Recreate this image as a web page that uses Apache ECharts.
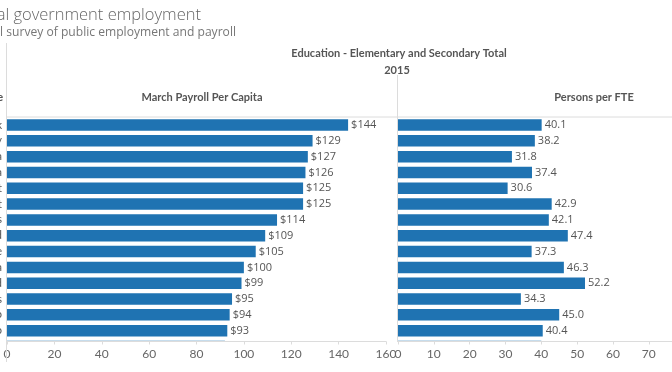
<!DOCTYPE html>
<html><head><meta charset="utf-8">
<script src="https://cdn.jsdelivr.net/npm/echarts@6/dist/echarts.min.js"></script>
<style>html,body{margin:0;padding:0;background:#fff}#c{width:672px;height:372px}</style>
</head><body><div id="c"></div>
<script>
const states = ["New York","New Jersey","Alaska","Pennsylvania","Connecticut","Vermont","Massachusetts","Maryland","New Hampshire","Virginia","Rhode Island","Illinois","Ohio","Colorado","Wisconsin"];
const payrollPerCapita = [144,129,127,126,125,125,114,109,105,100,99,95,94,93,92];
const personsPerFTE = [40.1,38.2,31.8,37.4,30.6,42.9,42.1,47.4,37.3,46.3,52.2,34.3,45.0,40.4,40.0];
const payrollTicks = [0,20,40,60,80,100,120,140,160];
const fteTicks = [0,10,20,30,40,50,60,70,80];
const titleText = "State and local government employment";
const subtitleText = "Annual survey of public employment and payroll";
const headerText = "Education - Elementary and Secondary Total";
const yearText = "2015";
const colHeaders = ["State","March Payroll Per Capita","Persons per FTE"];

const FONT = 'Lato, "Open Sans", sans-serif';
const OFONT = '"Open Sans", sans-serif';
const BLUE = '#1f73b2';
const LINE = '#dcdcdc';
const band = 15.82;
const gridTop = 117.1;
const gridH = band * states.length;

const chart = echarts.init(document.getElementById('c'), null, {renderer:'canvas'});
function xAx(idx, ticks) {
  return {
    type:'value', gridIndex: idx, min:ticks[0], max:ticks[ticks.length-1], interval:ticks[1]-ticks[0], position:'bottom',
    offset: -(gridTop + gridH - 341.5), z: 10,
    axisLine:{show:true, lineStyle:{color:LINE, width:1}},
    axisTick:{show:true, length:3, lineStyle:{color:LINE}},
    axisLabel:{color:'#666', fontSize:12, fontFamily:FONT, margin:7},
    splitLine:{show:false}
  };
}
function yAx(idx, showLabel) {
  return {
    type:'category', gridIndex: idx, data: states, inverse:true,
    axisLine:{show:false}, axisTick:{show:false},
    axisLabel:{show:showLabel, color:'#555', fontSize:11, fontFamily:FONT, margin:5}
  };
}
chart.setOption({
  animation:false,
  backgroundColor:'#fff',
  grid:[
    {left:7, top:gridTop, width:379, height:gridH, containLabel:false, outerBoundsMode:'none'},
    {left:398, top:gridTop, width:286.6, height:gridH, containLabel:false, outerBoundsMode:'none'}
  ],
  xAxis:[xAx(0,payrollTicks), xAx(1,fteTicks)],
  yAxis:[yAx(0,true), yAx(1,false)],
  series:[
    {type:'bar', xAxisIndex:0, yAxisIndex:0, data:payrollPerCapita, barWidth:11.5,
     itemStyle:{color:BLUE},
     label:{show:true, position:'right', distance:3, color:'#555', fontSize:11, fontFamily:OFONT,
            formatter:p=>'$'+p.value}},
    {type:'bar', xAxisIndex:1, yAxisIndex:1, data:personsPerFTE, barWidth:11.5,
     itemStyle:{color:BLUE},
     label:{show:true, position:'right', distance:3, color:'#555', fontSize:11, fontFamily:OFONT,
            formatter:p=>p.value.toFixed(1)}}
  ],
  graphic:[
    {type:'rect', z:5, silent:true, shape:{x:0,y:342,width:672,height:30}, style:{fill:'#fff'}},
    {type:'text', z:20, style:{x:201, y:15, text:titleText, align:'right', verticalAlign:'middle',
      font:'300 16.5px '+OFONT, fill:'#666'}},
    {type:'text', z:20, style:{x:236, y:33, text:subtitleText, align:'right', verticalAlign:'middle',
      font:'12.1px '+OFONT, fill:'#777'}},
    {type:'text', z:20, style:{x:399, y:53, text:headerText, align:'center', verticalAlign:'middle',
      font:'bold 11px '+FONT, fill:'#555'}},
    {type:'text', z:20, style:{x:397, y:70, text:yearText, align:'center', verticalAlign:'middle',
      font:'bold 11px '+FONT, fill:'#555'}},
    {type:'text', z:20, style:{x:3, y:97, text:colHeaders[0], align:'right', verticalAlign:'middle',
      font:'bold 11px '+FONT, fill:'#555'}},
    {type:'text', z:20, style:{x:202, y:97, text:colHeaders[1], align:'center', verticalAlign:'middle',
      font:'bold 11px '+FONT, fill:'#555'}},
    {type:'text', z:20, style:{x:594, y:97, text:colHeaders[2], align:'center', verticalAlign:'middle',
      font:'bold 11px '+FONT, fill:'#555'}},
    {type:'line', z:20, silent:true, shape:{x1:6,y1:117,x2:672,y2:117}, style:{stroke:LINE, lineWidth:1}},
    {type:'line', z:20, silent:true, shape:{x1:6.5,y1:43,x2:6.5,y2:362}, style:{stroke:LINE, lineWidth:1}},
    {type:'line', z:20, silent:true, shape:{x1:397.5,y1:75,x2:397.5,y2:342}, style:{stroke:LINE, lineWidth:1}}
  ]
});
</script></body></html>
